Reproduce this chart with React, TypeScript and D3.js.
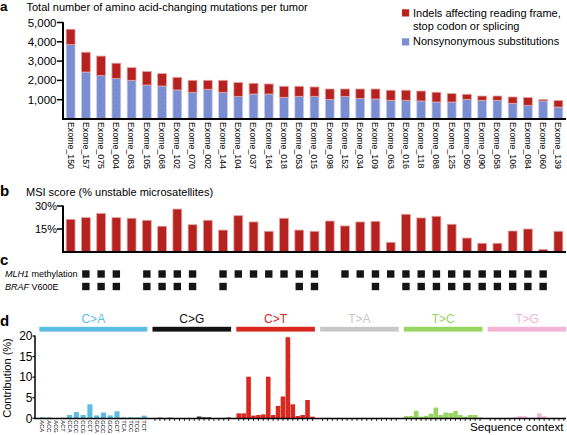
import React from 'react';
import * as d3 from 'd3';

// ---------- DATA ----------
const samples = [
  'Exome_150','Exome_157','Exome_075','Exome_004','Exome_083','Exome_105','Exome_068','Exome_102',
  'Exome_070','Exome_002','Exome_144','Exome_104','Exome_037','Exome_164','Exome_018','Exome_053',
  'Exome_015','Exome_098','Exome_152','Exome_034','Exome_109','Exome_063','Exome_016','Exome_118',
  'Exome_088','Exome_125','Exome_050','Exome_090','Exome_058','Exome_106','Exome_084','Exome_060','Exome_139',
];
const nonsynonymous = [3855,2435,2250,2095,2005,1760,1710,1505,1385,1540,1385,1175,1295,1295,1125,1175,1175,1020,1175,1070,1035,970,970,935,880,880,1020,970,970,815,710,935,620];
const indels = [795,1025,1010,795,655,700,640,655,620,465,620,715,555,520,570,520,485,535,380,485,520,520,520,515,505,435,260,220,220,325,400,70,335];
const yTicksA = [1000, 2000, 3000, 4000, 5000];
const legendLabels = ['Indels affecting reading frame,', 'stop codon or splicing', 'Nonsynonymous substitutions'];

const msiScore = [21.3,22.4,25.2,22.4,22.0,20.7,16.8,28.0,17.8,20.7,14.3,23.7,19.6,13.5,22.0,14.3,13.5,20.2,17.0,19.6,20.0,6.3,24.6,22.2,23.3,18.1,9.1,5.7,5.7,13.7,15.0,1.7,13.5];
const yTicksB = [15, 30];

// indices of samples with a filled square
const mlh1Methylation = [1,2,3,5,6,7,8,10,11,12,13,14,15,16,18,19,20,21,22,23,24,25,26,27,28,29,30,31];
const brafV600E = [1,2,3,5,6,7,8,10,15,16,20,22,23,24,25,26,27,28,29,30,31];

const mutationTypes = ['C>A','C>G','C>T','T>A','T>C','T>G'];
const typeColors = ['#5cbde4','#111111','#d8271f','#c8c8c8','#98d461','#f3b4d8'];
const typeBarColors = ['#5cbde4','#3a3a3a','#d8271f','#bdbdbd','#98d461','#f3b4d8'];
const contexts = ['ACA','ACC','ACG','ACT','CCA','CCC','CCG','CCT','GCA','GCC','GCG','GCT','TCA','TCC','TCG','TCT'];
const contribCA = [0.25,0.2,0.05,0.15,0.8,1.5,0.8,3.4,0.7,1.4,0.7,1.7,0.2,0.25,0.2,0.65];
const contribCG = [0.05,0.15,0.05,0.15,0.05,0.05,0.05,0.05,0.05,0.45,0.25,0.25,0.05,0.05,0.05,0.2];
const contribCT = [1.2,1.2,10.1,0.65,0.8,0.95,10.1,0.8,3.0,5.3,19.7,3.4,0.55,0.8,4.45,0.4];
const contribTA = [0.1,0.1,0.05,0.1,0.05,0.05,0.05,0.05,0.05,0.05,0.05,0.05,0.05,0.05,0.05,0.05];
const contribTC = [0.55,0.55,1.8,0.4,0.6,1.1,2.6,0.8,1.4,1.3,1.8,0.8,0.4,0.8,0.8,0.2];
const contribTG = [0.05,0.05,0.05,0.05,0.1,0.2,0.5,0.5,0.1,0.1,1.2,0.5,0.05,0.05,0.05,0.1];
const yTicksD = [0, 5, 10, 15, 20];

// ---------- LAYOUT ----------
const W = 567, H = 435;
const FONT = '"Liberation Sans", Arial, Helvetica, sans-serif';
const RED = '#b5221f';
const BLUE = '#7b8ed4';

export default function App() {
  const x = d3.scaleBand<string>().domain(samples).range([63, 566]).paddingInner(0.42).paddingOuter(0.21);
  const bw = x.bandwidth();
  const cx = (i: number) => (x(samples[i]) as number) + bw / 2;

  // Panel a
  const yA = d3.scaleLinear().domain([0, 5000]).range([119, 22.5]);
  const tableA = samples.map((s, i) => ({ sample: s, nonsyn: nonsynonymous[i], indel: indels[i] }));
  const stacked = d3.stack<any>().keys(['nonsyn', 'indel'])(tableA);
  const fmt = d3.format(',');

  // Panel b
  const yB = d3.scaleLinear().domain([0, 30]).range([252, 206]);

  // Panel c
  const sq = 7.4;
  const rowY = [274, 286.5];

  // Panel d
  const groupWidths = [108, 78.6, 78.6, 78.6, 78.6, 78.6];
  const gap = 5.2;
  const groupStarts: number[] = [];
  groupWidths.reduce((acc, w) => { groupStarts.push(acc); return acc + w + gap; }, 39.3);
  const contribs = [contribCA, contribCG, contribCT, contribTA, contribTC, contribTG];
  const yD = d3.scaleLinear().domain([0, 20]).range([418.3, 336]);
  const groupScales = mutationTypes.map((_, g) =>
    d3.scaleBand<string>().domain(contexts)
      .range([groupStarts[g], groupStarts[g] + groupWidths[g]])
      .paddingInner(g === 0 ? 0.25 : 0.06).paddingOuter(g === 0 ? 0.1 : 0.03)
  );

  return (
    <svg width={W} height={H} viewBox={`0 0 ${W} ${H}`}
      style={{ position: 'absolute', left: 0, top: 0, display: 'block', background: '#fff' }}
      fontFamily={FONT}>
      <defs>
        <pattern id="dots" width="6" height="8" patternUnits="userSpaceOnUse">
          <circle cx="1.5" cy="2" r="0.45" fill="#8b7a45" />
          <circle cx="4.5" cy="6" r="0.45" fill="#8b7a45" />
        </pattern>
        <pattern id="dotsRed" width="5" height="6" patternUnits="userSpaceOnUse">
          <circle cx="1.2" cy="1.5" r="0.45" fill="#e86a5e" />
          <circle cx="3.7" cy="4.5" r="0.45" fill="#e86a5e" />
        </pattern>
      </defs>

      {/* ===== Panel a ===== */}
      <text x={0} y={11} fontSize={13.5} fontWeight="bold">a</text>
      <text x={26.5} y={10.6} fontSize={11}>Total number of amino acid-changing mutations per tumor</text>

      {/* legend */}
      <rect x={402} y={9.3} width={7.2} height={7.2} fill={RED} />
      <text x={413} y={16.7} fontSize={11}>{legendLabels[0]}</text>
      <text x={413} y={29.5} fontSize={11}>{legendLabels[1]}</text>
      <rect x={402} y={38.3} width={7.2} height={7.2} fill={BLUE} />
      <text x={413} y={45.2} fontSize={11}>{legendLabels[2]}</text>

      {stacked.map((layer, li) => (
        <g key={layer.key}>
          {layer.map((d, i) => (
            <g key={i}>
              <rect x={x(samples[i])} y={yA(d[1])} width={bw} height={yA(d[0]) - yA(d[1])}
                fill={li === 0 ? BLUE : RED} stroke={li === 0 ? '#c9d0f0' : '#e3a3a0'} strokeWidth={0.8} />
              {li === 0 && (
                <rect x={x(samples[i])} y={yA(d[1])} width={bw} height={yA(d[0]) - yA(d[1])} fill="url(#dots)" opacity={0.8} />
              )}
            </g>
          ))}
        </g>
      ))}
      {/* y axis a */}
      <line x1={63} x2={63} y1={22} y2={119} stroke="#000" strokeWidth={2} />
      {yTicksA.map(t => (
        <g key={t}>
          <line x1={57} x2={63} y1={yA(t)} y2={yA(t)} stroke="#000" strokeWidth={1.5} />
          <text x={56.5} y={yA(t)} dy="0.35em" fontSize={11.5} textAnchor="end">{fmt(t)}</text>
        </g>
      ))}
      <line x1={62} x2={566} y1={119} y2={119} stroke="#000" strokeWidth={2} />
      {samples.map((s, i) => (
        <text key={s} transform={`translate(${cx(i)},122) rotate(90)`} fontSize={8.8} dy="0.35em">{s}</text>
      ))}

      {/* ===== Panel b ===== */}
      <text x={0} y={195.5} fontSize={15} fontWeight="bold">b</text>
      <text x={26} y={195.7} fontSize={11}>MSI score (% unstable microsatellites)</text>
      {msiScore.map((v, i) => (
        <rect key={i} x={x(samples[i])} y={yB(v)} width={bw} height={yB(0) - yB(v)}
          fill={RED} stroke="#e3a3a0" strokeWidth={0.8} />
      ))}
      <line x1={63} x2={63} y1={205.5} y2={252} stroke="#000" strokeWidth={2} />
      {yTicksB.map(t => (
        <g key={t}>
          <line x1={57} x2={63} y1={yB(t)} y2={yB(t)} stroke="#000" strokeWidth={1.5} />
          <text x={57} y={yB(t)} dy="0.35em" fontSize={11} textAnchor="end">{t}%</text>
        </g>
      ))}
      <line x1={62} x2={566} y1={252} y2={252} stroke="#000" strokeWidth={2} />

      {/* ===== Panel c ===== */}
      <text x={0} y={265} fontSize={15} fontWeight="bold">c</text>
      <text x={5} y={277.3} fontSize={9}><tspan fontStyle="italic">MLH1</tspan> methylation</text>
      <text x={5} y={289.7} fontSize={9}><tspan fontStyle="italic">BRAF</tspan> V600E</text>
      {mlh1Methylation.map(i => (
        <rect key={'m' + i} x={cx(i) - sq / 2} y={rowY[0] - sq / 2} width={sq} height={sq} fill="#151515" />
      ))}
      {brafV600E.map(i => (
        <rect key={'b' + i} x={cx(i) - sq / 2} y={rowY[1] - sq / 2} width={sq} height={sq} fill="#151515" />
      ))}

      {/* ===== Panel d ===== */}
      <text x={0} y={326} fontSize={15} fontWeight="bold">d</text>
      {mutationTypes.map((m, g) => (
        <g key={m}>
          <text x={groupStarts[g] + groupWidths[g] / 2} y={323.3} fontSize={12} textAnchor="middle" fill={typeColors[g]}>{m}</text>
          <rect x={groupStarts[g]} y={326.8} width={groupWidths[g]} height={4.8} fill={typeColors[g]} />
        </g>
      ))}
      {contribs.map((vals, g) => (
        <g key={g}>
          {vals.map((v, k) => {
            const sc = groupScales[g];
            return (
              <g key={k}>
                <rect x={sc(contexts[k])} y={yD(v)} width={sc.bandwidth()} height={yD(0) - yD(v)}
                  fill={typeBarColors[g]} />
                {g === 2 && (
                  <rect x={sc(contexts[k])} y={yD(v)} width={sc.bandwidth()} height={yD(0) - yD(v)} fill="url(#dotsRed)" opacity={0.6} />
                )}
                {g === 0 ? (
                  <text transform={`translate(${(sc(contexts[k]) as number) + sc.bandwidth() / 2},420.3) rotate(90)`}
                    fontSize={5.8} dy="0.35em">{contexts[k]}</text>
                ) : (
                  <line x1={(sc(contexts[k]) as number) + sc.bandwidth() / 2} x2={(sc(contexts[k]) as number) + sc.bandwidth() / 2}
                    y1={418.5} y2={421} stroke="#000" strokeWidth={0.8} />
                )}
              </g>
            );
          })}
        </g>
      ))}
      <line x1={35} x2={35} y1={335.5} y2={418.5} stroke="#000" strokeWidth={1.5} />
      {yTicksD.map(t => (
        <g key={t}>
          <line x1={32.5} x2={35} y1={yD(t)} y2={yD(t)} stroke="#000" strokeWidth={1.2} />
          <text x={32.5} y={yD(t)} dy="0.35em" fontSize={12} textAnchor="end">{t}</text>
        </g>
      ))}
      <line x1={34.3} x2={566} y1={418.5} y2={418.5} stroke="#000" strokeWidth={1.5} />
      <text transform="translate(11,378) rotate(-90)" fontSize={11} textAnchor="middle">Contribution (%)</text>
      <text x={563.5} y={431} fontSize={11.7} textAnchor="end">Sequence context</text>
    </svg>
  );
}
